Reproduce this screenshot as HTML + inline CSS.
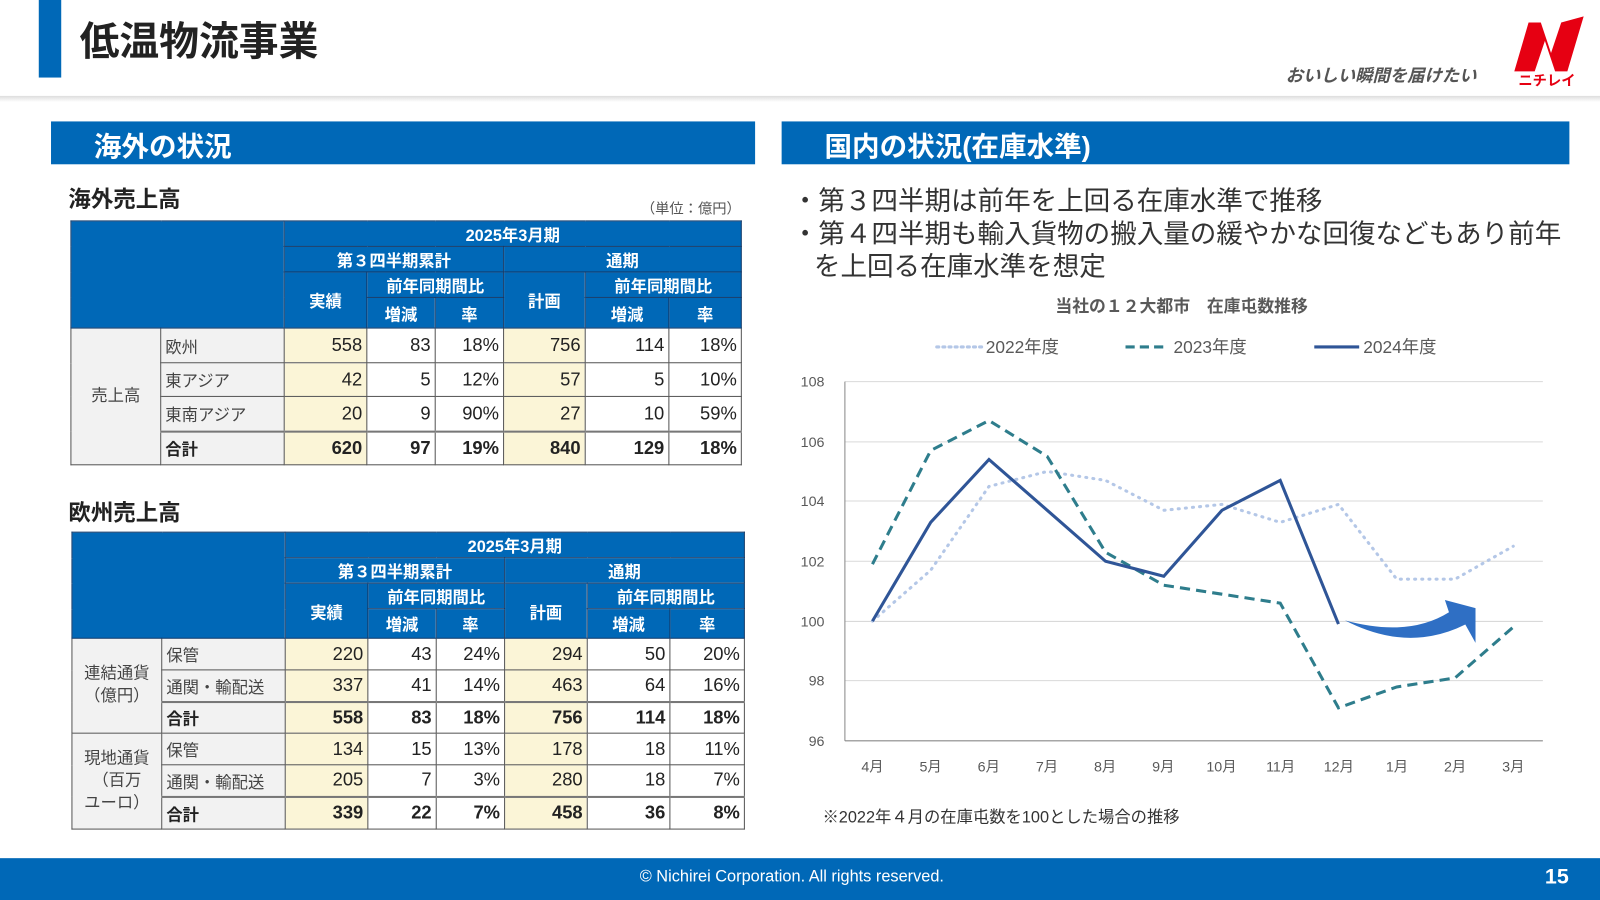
<!DOCTYPE html>
<html><head><meta charset="utf-8"><style>
html,body{margin:0;padding:0;width:1600px;height:900px;overflow:hidden;background:#fff}
#w{position:absolute;left:0;top:0;width:1568px;height:882px;transform:scale(1.020408);transform-origin:0 0;font-family:"Liberation Sans","Noto Sans CJK JP",sans-serif;color:#222}
.a{position:absolute;white-space:nowrap}
table{position:absolute;border-collapse:collapse;table-layout:fixed;font-family:"Liberation Sans Narrow","Liberation Sans","Noto Sans CJK JP",sans-serif}
td{padding:0 4px;border:1px solid #555;font-size:18px;text-align:right;color:#222;overflow:hidden;white-space:nowrap}
td.h{background:#0068b7;color:#fff;text-align:center;font-weight:bold;font-size:16px;border:1px solid #123a6a;font-family:"Liberation Sans","Noto Sans CJK JP",sans-serif}
td.g{background:#f2f2f2;text-align:left;font-size:16px;color:#444;font-family:"Liberation Sans","Noto Sans CJK JP",sans-serif}
td.gc{background:#f2f2f2;text-align:center;font-size:16px;color:#444;font-family:"Liberation Sans","Noto Sans CJK JP",sans-serif;line-height:22px}
td.y{background:#fbf5d7}
tr.t td{font-weight:bold;border-top:2px solid #777}
</style></head><body><div id="w">
<div class="a" style="left:38px;top:0;width:22px;height:76px;background:#0068b7"></div>
<div class="a" style="left:78px;top:10px;font-size:39px;font-weight:bold;color:#222">低温物流事業</div>
<div class="a" style="left:0;top:94px;width:1568px;height:6px;background:linear-gradient(#ddd,#fff)"></div>
<div class="a" style="left:1260px;top:60px;font-size:17px;font-style:italic;font-weight:bold;color:#555">おいしい瞬間を届けたい</div>
<svg class="a" style="left:1480px;top:12px" width="76" height="74" viewBox="0 0 76 74">
<path d="M4 58 L18 10 L30 10 L40 40 L50 10 L72 4 L56 58 L44 58 L34 28 L24 58 Z" fill="#e60012"/>
<text x="36" y="72" font-size="14" font-weight="bold" fill="#e60012" text-anchor="middle" font-family="Noto Sans CJK JP,sans-serif">ニチレイ</text></svg>
<div class="a" style="left:50px;top:119px;width:690px;height:42px;background:#0068b7"></div>
<div class="a" style="left:92px;top:122px;font-size:27px;font-weight:bold;color:#fff">海外の状況</div>
<div class="a" style="left:766px;top:119px;width:772px;height:42px;background:#0068b7"></div>
<div class="a" style="left:808px;top:122px;font-size:27px;font-weight:bold;color:#fff">国内の状況(在庫水準)</div>
<div class="a" style="left:67px;top:178px;font-size:22px;font-weight:bold">海外売上高</div>
<div class="a" style="left:628px;top:194px;font-size:14px;color:#555">（単位：億円）</div>
<table style="left:69px;top:216px;width:657px">
<colgroup><col style="width:88px"><col style="width:121px"><col style="width:81px"><col style="width:67px"><col style="width:67px"><col style="width:80px"><col style="width:82px"><col style="width:71px"></colgroup>
<tr style="height:25px"><td class="h" colspan="2" rowspan="4"></td><td class="h" colspan="6">2025年3月期</td></tr>
<tr style="height:25px"><td class="h" colspan="3">第３四半期累計</td><td class="h" colspan="3">通期</td></tr>
<tr style="height:25px"><td class="h" rowspan="2">実績</td><td class="h" colspan="2">前年同期間比</td><td class="h" rowspan="2">計画</td><td class="h" colspan="2">前年同期間比</td></tr>
<tr style="height:30px"><td class="h">増減</td><td class="h">率</td><td class="h">増減</td><td class="h">率</td></tr>
<tr style="height:34px"><td class="gc" rowspan="4">売上高</td><td class="g">欧州</td><td class="y">558</td><td>83</td><td>18%</td><td class="y">756</td><td>114</td><td>18%</td></tr>
<tr style="height:33px"><td class="g">東アジア</td><td class="y">42</td><td>5</td><td>12%</td><td class="y">57</td><td>5</td><td>10%</td></tr>
<tr style="height:34px"><td class="g">東南アジア</td><td class="y">20</td><td>9</td><td>90%</td><td class="y">27</td><td>10</td><td>59%</td></tr>
<tr style="height:33px" class="t"><td class="g" style="font-weight:bold;color:#222">合計</td><td class="y">620</td><td>97</td><td>19%</td><td class="y">840</td><td>129</td><td>18%</td></tr>
</table>
<div class="a" style="left:67px;top:485px;font-size:22px;font-weight:bold">欧州売上高</div>
<table style="left:70px;top:521px;width:660px">
<colgroup><col style="width:88px"><col style="width:121px"><col style="width:81px"><col style="width:67px"><col style="width:67px"><col style="width:81px"><col style="width:81px"><col style="width:73px"></colgroup>
<tr style="height:23px"><td class="h" colspan="2" rowspan="4"></td><td class="h" colspan="6">2025年3月期</td></tr>
<tr style="height:23px"><td class="h" colspan="3">第３四半期累計</td><td class="h" colspan="3">通期</td></tr>
<tr style="height:24px"><td class="h" rowspan="2">実績</td><td class="h" colspan="2">前年同期間比</td><td class="h" rowspan="2">計画</td><td class="h" colspan="2">前年同期間比</td></tr>
<tr style="height:29px"><td class="h">増減</td><td class="h">率</td><td class="h">増減</td><td class="h">率</td></tr>
<tr style="height:31px"><td class="gc" rowspan="3">連結通貨<br>（億円）</td><td class="g">保管</td><td class="y">220</td><td>43</td><td>24%</td><td class="y">294</td><td>50</td><td>20%</td></tr>
<tr style="height:31px"><td class="g">通関・輸配送</td><td class="y">337</td><td>41</td><td>14%</td><td class="y">463</td><td>64</td><td>16%</td></tr>
<tr style="height:31px" class="t"><td class="g" style="font-weight:bold;color:#222">合計</td><td class="y">558</td><td>83</td><td>18%</td><td class="y">756</td><td>114</td><td>18%</td></tr>
<tr style="height:31px"><td class="gc" rowspan="3">現地通貨<br>（百万<br>ユーロ）</td><td class="g">保管</td><td class="y">134</td><td>15</td><td>13%</td><td class="y">178</td><td>18</td><td>11%</td></tr>
<tr style="height:31px"><td class="g">通関・輸配送</td><td class="y">205</td><td>7</td><td>3%</td><td class="y">280</td><td>18</td><td>7%</td></tr>
<tr style="height:32px" class="t"><td class="g" style="font-weight:bold;color:#222">合計</td><td class="y">339</td><td>22</td><td>7%</td><td class="y">458</td><td>36</td><td>8%</td></tr>
</table>
<div class="a" style="left:776px;top:181px;font-size:26px;color:#333;line-height:32px">・第３四半期は前年を上回る在庫水準で推移<br>・第４四半期も輸入貨物の搬入量の緩やかな回復などもあり前年<br>&nbsp;&nbsp;&nbsp;を上回る在庫水準を想定</div>
<svg class="a" style="left:0;top:0" width="1568" height="882" viewBox="0 0 1568 882" font-family="Liberation Sans,Noto Sans CJK JP,sans-serif">
<text x="1158" y="306" font-size="16.5" font-weight="bold" fill="#595959" text-anchor="middle">当社の１２大都市　在庫屯数推移</text>
<line x1="918" y1="340" x2="962" y2="340" stroke="#b4c7e7" stroke-width="3" stroke-dasharray="2 4" stroke-linecap="round"/>
<text x="966" y="346" font-size="17" fill="#595959">2022年度</text>
<line x1="1103" y1="340" x2="1145" y2="340" stroke="#2e7d8c" stroke-width="3" stroke-dasharray="9 5"/>
<text x="1150" y="346" font-size="17" fill="#595959">2023年度</text>
<line x1="1288" y1="340" x2="1332" y2="340" stroke="#2f5597" stroke-width="3"/>
<text x="1336" y="346" font-size="17" fill="#595959">2024年度</text>
<g stroke="#d9d9d9" stroke-width="1">
<line x1="828" y1="374" x2="1512" y2="374"/><line x1="828" y1="433" x2="1512" y2="433"/><line x1="828" y1="491" x2="1512" y2="491"/><line x1="828" y1="550" x2="1512" y2="550"/><line x1="828" y1="609" x2="1512" y2="609"/><line x1="828" y1="667" x2="1512" y2="667"/></g>
<line x1="828" y1="726" x2="1512" y2="726" stroke="#888"/>
<line x1="828" y1="374" x2="828" y2="726" stroke="#888"/>
<g font-size="14" fill="#595959" text-anchor="end">
<text x="808" y="379">108</text><text x="808" y="438">106</text><text x="808" y="496">104</text><text x="808" y="555">102</text><text x="808" y="614">100</text><text x="808" y="672">98</text><text x="808" y="731">96</text></g>
<g font-size="14" fill="#595959" text-anchor="middle">
<text x="855" y="756">4月</text><text x="912" y="756">5月</text><text x="969" y="756">6月</text><text x="1026" y="756">7月</text><text x="1083" y="756">8月</text><text x="1140" y="756">9月</text><text x="1197" y="756">10月</text><text x="1255" y="756">11月</text><text x="1312" y="756">12月</text><text x="1369" y="756">1月</text><text x="1426" y="756">2月</text><text x="1483" y="756">3月</text></g>
<polyline fill="none" stroke="#b4c7e7" stroke-width="3" stroke-dasharray="1 6" stroke-linecap="round" points="855,608.7 912.1,558.8 969.2,476.7 1026.3,462 1083.4,470.8 1140.5,500.1 1197.5,494.3 1254.6,511.9 1311.7,494.3 1368.8,567.6 1425.9,567.6 1483,535.3"/>
<polyline fill="none" stroke="#2e7d8c" stroke-width="3" stroke-dasharray="10 6" points="855,552.9 912.1,441.5 969.2,412.1 1026.3,447.3 1083.4,541.2 1140.5,573.5 1197.5,582.3 1254.6,591.1 1311.7,693.7 1368.8,673.2 1425.9,664.4 1483,614.5"/>
<polyline fill="none" stroke="#2f5597" stroke-width="3" points="855,608.7 912.1,511.9 969.2,450.3 1026.3,500.1 1083.4,550 1140.5,564.7 1197.5,500.1 1254.6,470.8 1311.7,611.6"/>
<path d="M1318 608 Q1380 625 1420 600 L1416 588 L1446 596 L1446 630 L1436 612 Q1380 640 1318 608 Z" fill="#2f6fc4"/>
<text x="806" y="806" font-size="16" fill="#333">※2022年４月の在庫屯数を100とした場合の推移</text>
</svg>
<div class="a" style="left:0;top:841px;width:1568px;height:41px;background:#0068b7"></div>
<div class="a" style="left:0;top:851px;width:1552px;text-align:center;font-size:16px;color:#fff">© Nichirei Corporation. All rights reserved.</div>
<div class="a" style="left:1514px;top:848px;font-size:21px;font-weight:bold;color:#fff">15</div>
</div></body></html>
